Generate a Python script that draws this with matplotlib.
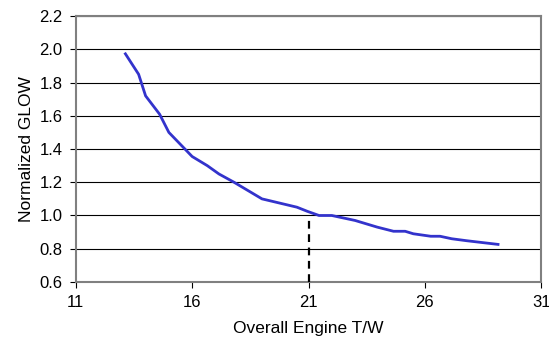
import numpy as np
import matplotlib.pyplot as plt
from matplotlib.ticker import FormatStrFormatter

plt.rcParams['font.family'] = ['Liberation Sans', 'DejaVu Sans']

# engine T/W sweep vs normalized gross lift-off weight
tw = [13.1, 13.7, 14.0, 14.6, 15.0, 16.0, 16.65, 17.15, 17.8, 19.0, 20.5,
      20.95, 21.45, 22.0, 23.0, 23.95, 24.65, 25.15, 25.5, 26.25, 26.65,
      27.15, 27.8, 29.2]
glow = [1.98, 1.85, 1.72, 1.61, 1.50, 1.355, 1.30, 1.25, 1.20, 1.10, 1.05,
        1.025, 1.0, 1.0, 0.97, 0.93, 0.905, 0.905, 0.89, 0.875, 0.875,
        0.86, 0.848, 0.825]
design_tw = 21
design_glow = 1.0

fig = plt.figure(figsize=(5.49, 3.43), dpi=100)
ax = fig.add_axes([0.138, 0.178, 0.848, 0.775])

ax.plot(tw, glow, color='#3333cc', lw=2.0, solid_capstyle='butt', zorder=3)
ax.plot([design_tw, design_tw], [0.6, design_glow], color='black', lw=1.6,
        ls=(0, (3.5, 2.5)), zorder=3)

ax.set_xlim(11, 31)
ax.set_ylim(0.6, 2.2)
ax.set_xticks([11, 16, 21, 26, 31])
ax.set_yticks(np.arange(0.6, 2.21, 0.2))
ax.yaxis.set_major_formatter(FormatStrFormatter('%.1f'))
ax.yaxis.grid(True, color='black', lw=0.8)
ax.set_axisbelow(True)

for s in ax.spines.values():
    s.set_color('#808080')
    s.set_linewidth(1.5)

ax.tick_params(direction='out', length=4, width=0.8, color='black',
               labelsize=12, pad=5.5)
ax.set_xlabel('Overall Engine T/W', fontsize=12.5, labelpad=8)
ax.set_ylabel('Normalized GLOW', fontsize=12.5, labelpad=4)

fig.savefig('out.png', dpi=100)
